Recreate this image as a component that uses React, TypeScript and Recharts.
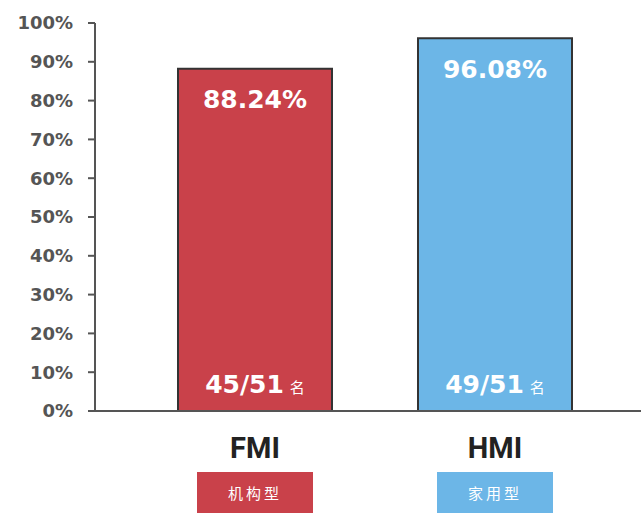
import { BarChart, Bar, XAxis, YAxis, Cell, LabelList } from 'recharts';

const CATEGORIES = ['FMI', 'HMI'];
const SUBTITLES = ['机构型', '家用型'];
const RATES = [88.24, 96.08];
const RANKS = ['45/51', '49/51'];
const Y_TICKS = [0, 10, 20, 30, 40, 50, 60, 70, 80, 90, 100];

const BAR_COLORS = ['#C9414A', '#6CB6E7'];
const AXIS_COLOR = '#555';

const data = CATEGORIES.map((name, i) => ({
  name,
  rate: RATES[i],
  rank: RANKS[i],
  sub: SUBTITLES[i],
}));

// category name plus the coloured tag box below it
function CategoryTick({ x, y, payload }: any) {
  const i = CATEGORIES.indexOf(payload.value);
  return (
    <g>
      <text
        x={x}
        y={y + 47}
        textAnchor="middle"
        fill="#222"
        style={{ fontFamily: 'Roboto', fontWeight: 700, fontSize: 29 }}
      >
        {payload.value}
      </text>
      <rect x={x - 58} y={y + 61} width={116} height={41} fill={BAR_COLORS[i]} />
      <text
        x={x}
        y={y + 88}
        textAnchor="middle"
        fill="#fff"
        style={{ fontFamily: 'Noto Sans CJK SC', fontSize: 15, letterSpacing: 3 }}
      >
        {SUBTITLES[i]}
      </text>
    </g>
  );
}

function RateLabel({ x, y, width, value }: any) {
  return (
    <text
      x={x + width / 2}
      y={y + 31}
      textAnchor="middle"
      dominantBaseline="central"
      fill="#fff"
      style={{ fontFamily: 'DejaVu Sans', fontWeight: 700, fontSize: 25 }}
    >
      {`${value}%`}
    </text>
  );
}

function RankLabel({ x, y, width, height, value }: any) {
  return (
    <text
      x={x + width / 2}
      y={y + height - 18}
      textAnchor="middle"
      fill="#fff"
      style={{ fontFamily: 'DejaVu Sans', fontWeight: 700, fontSize: 25 }}
    >
      {value}
      <tspan dx={6} style={{ fontFamily: 'Noto Sans CJK SC', fontWeight: 400, fontSize: 15 }}>
        名
      </tspan>
    </text>
  );
}

export default function App() {
  return (
    <div style={{ position: 'absolute', left: 0, top: 0, width: 641, height: 513, background: '#fff' }}>
      <BarChart
        width={641}
        height={513}
        data={data}
        margin={{ top: 23, right: 0, left: 0, bottom: 0 }}
      >
        <XAxis
          dataKey="name"
          height={102}
          padding={{ left: 40, right: 26 }}
          axisLine={{ stroke: AXIS_COLOR, strokeWidth: 2 }}
          tickLine={false}
          tickSize={0}
          tickMargin={0}
          tick={<CategoryTick />}
        />
        <YAxis
          width={95}
          domain={[0, 100]}
          ticks={Y_TICKS}
          interval={0}
          tickFormatter={(v) => `${v}%`}
          axisLine={{ stroke: AXIS_COLOR, strokeWidth: 2 }}
          tickLine={{ stroke: AXIS_COLOR, strokeWidth: 2 }}
          tickSize={7}
          tickMargin={15}
          tick={{ fill: AXIS_COLOR, fontFamily: 'DejaVu Sans', fontWeight: 700, fontSize: 18 }}
        />
        <Bar
          dataKey="rate"
          barSize={154}
          stroke="#333"
          strokeWidth={2}
          isAnimationActive={false}
        >
          {data.map((d, i) => (
            <Cell key={d.name} fill={BAR_COLORS[i]} />
          ))}
          <LabelList dataKey="rate" content={<RateLabel />} />
          <LabelList dataKey="rank" content={<RankLabel />} />
        </Bar>
      </BarChart>
    </div>
  );
}
